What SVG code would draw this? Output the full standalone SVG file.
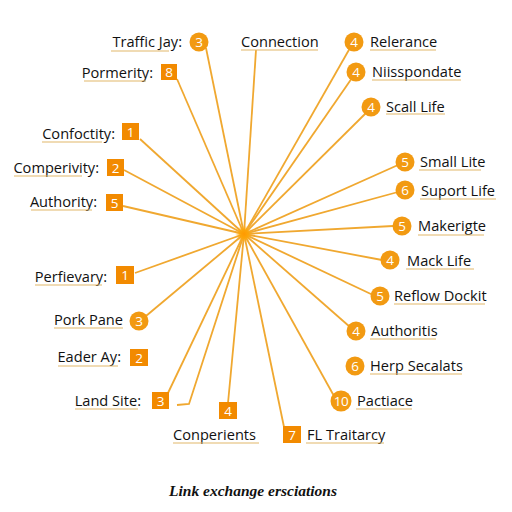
<svg xmlns="http://www.w3.org/2000/svg" width="512" height="512" viewBox="0 0 512 512">
<style>
.t{font-family:"Open Sans","Noto Sans",sans-serif;font-size:14.6px;fill:#111}
.n{font-family:"Open Sans","Noto Sans",sans-serif;font-size:13.5px;fill:#fff;text-anchor:middle}
.c{fill:#F29A12}
.s{fill:#F28A00}
.u{stroke:#E2B86A;stroke-width:1.2}
#conn line,#conn path{stroke:#F0A830;stroke-width:1.8;fill:none}
</style>
<defs>
<radialGradient id="glow"><stop offset="0" stop-color="#FF9900"/><stop offset="0.5" stop-color="#FFA500" stop-opacity="0.8"/><stop offset="1" stop-color="#FFB030" stop-opacity="0"/></radialGradient>
</defs>
<rect width="512" height="512" fill="#fff"/>
<g id="conn">
<line x1="244" y1="234" x2="206" y2="48"/>
<line x1="244" y1="234" x2="256" y2="50"/>
<line x1="244" y1="234" x2="350" y2="48"/>
<line x1="244" y1="234" x2="352" y2="78"/>
<line x1="244" y1="234" x2="366" y2="113"/>
<line x1="244" y1="234" x2="398" y2="165"/>
<line x1="244" y1="234" x2="398" y2="192"/>
<line x1="244" y1="234" x2="393" y2="226"/>
<line x1="244" y1="234" x2="382" y2="260"/>
<line x1="244" y1="234" x2="373" y2="295"/>
<line x1="244" y1="234" x2="350" y2="327"/>
<line x1="244" y1="234" x2="334" y2="396"/>
<line x1="244" y1="234" x2="284" y2="427"/>
<line x1="244" y1="234" x2="228" y2="403"/>
<path d="M244 234 L189 404 L177 405"/>
<line x1="244" y1="234" x2="168" y2="393"/>
<line x1="244" y1="234" x2="146" y2="316"/>
<line x1="244" y1="234" x2="135" y2="273"/>
<line x1="244" y1="234" x2="123" y2="206"/>
<line x1="244" y1="234" x2="124" y2="170"/>
<line x1="244" y1="234" x2="140" y2="139"/>
<line x1="244" y1="234" x2="177" y2="79"/>
</g>
<circle cx="244" cy="234" r="9" fill="url(#glow)"/>
<g id="traffic"><text class="t" x="182" y="47" text-anchor="end">Traffic Jay:</text><line class="u" x1="111" y1="51" x2="169" y2="51"/><circle class="c" cx="199" cy="42" r="9.5"/><text class="n" x="199" y="47">3</text></g>
<g id="connection"><text class="t" x="241" y="47">Connection</text><line class="u" x1="241" y1="50" x2="318" y2="50"/></g>
<g id="relerance"><circle class="c" cx="354" cy="42" r="9.5"/><text class="n" x="354" y="47">4</text><text class="t" x="370" y="47">Relerance</text><line class="u" x1="370" y1="50" x2="436" y2="50"/></g>
<g id="niiss"><circle class="c" cx="356" cy="72" r="9.5"/><text class="n" x="356" y="77">4</text><text class="t" x="372" y="77">Niisspondate</text><line class="u" x1="372" y1="80" x2="461" y2="80"/></g>
<g id="scall"><circle class="c" cx="371" cy="107" r="9.5"/><text class="n" x="371" y="112">4</text><text class="t" x="386" y="112">Scall Life</text><line class="u" x1="386" y1="114" x2="445" y2="114"/></g>
<g id="pormerity"><text class="t" x="153" y="78" text-anchor="end">Pormerity:</text><line class="u" x1="84" y1="81" x2="146" y2="81"/><rect class="s" x="161" y="64" width="16" height="16"/><text class="n" x="169" y="77">8</text></g>
<g id="confoctity"><text class="t" x="115" y="139" text-anchor="end">Confoctity:</text><line class="u" x1="42" y1="142" x2="102" y2="142"/><rect class="s" x="122" y="123" width="17" height="17"/><text class="n" x="130.5" y="136.5">1</text></g>
<g id="comperivity"><text class="t" x="99" y="173" text-anchor="end">Comperivity:</text><line class="u" x1="14" y1="176" x2="82" y2="176"/><rect class="s" x="107" y="159" width="17" height="17"/><text class="n" x="115.5" y="172.5">2</text></g>
<g id="authority"><text class="t" x="97" y="207" text-anchor="end">Authority:</text><line class="u" x1="31" y1="210" x2="92" y2="210"/><rect class="s" x="106" y="194" width="17" height="17"/><text class="n" x="114.5" y="207.5">5</text></g>
<g id="small"><circle class="c" cx="405" cy="162" r="9.5"/><text class="n" x="405" y="167">5</text><text class="t" x="420" y="167">Small Lite</text><line class="u" x1="419" y1="170" x2="481" y2="170"/></g>
<g id="suport"><circle class="c" cx="405" cy="190" r="9.5"/><text class="n" x="405" y="195">6</text><text class="t" x="421" y="196">Suport Life</text><line class="u" x1="420" y1="199" x2="496" y2="199"/></g>
<g id="makerigte"><circle class="c" cx="402" cy="226" r="9.5"/><text class="n" x="402" y="231">5</text><text class="t" x="418" y="231">Makerigte</text><line class="u" x1="418" y1="235" x2="484" y2="235"/></g>
<g id="mack"><circle class="c" cx="390" cy="260" r="9.5"/><text class="n" x="390" y="265">4</text><text class="t" x="407" y="266">Mack Life</text><line class="u" x1="406" y1="269" x2="474" y2="269"/></g>
<g id="reflow"><circle class="c" cx="380" cy="296" r="9.5"/><text class="n" x="380" y="301">5</text><text class="t" x="394" y="301">Reflow Dockit</text><line class="u" x1="394" y1="304" x2="485" y2="304"/></g>
<g id="authoritis"><circle class="c" cx="356" cy="331" r="9.5"/><text class="n" x="356" y="336">4</text><text class="t" x="371" y="336">Authoritis</text><line class="u" x1="370" y1="339" x2="436" y2="339"/></g>
<g id="herp"><circle class="c" cx="355" cy="366" r="9.5"/><text class="n" x="355" y="371">6</text><text class="t" x="370" y="371">Herp Secalats</text><line class="u" x1="370" y1="374" x2="462" y2="374"/></g>
<g id="pactiace"><circle class="c" cx="341" cy="401" r="10.5"/><text class="n" x="341" y="406" letter-spacing="-0.5">10</text><text class="t" x="357" y="406">Pactiace</text><line class="u" x1="356" y1="409" x2="412" y2="409"/></g>
<g id="fl"><rect class="s" x="283" y="426" width="18" height="17"/><text class="n" x="292" y="439.5">7</text><text class="t" x="307" y="440">FL Traitarcy</text><line class="u" x1="306" y1="443" x2="384" y2="443"/></g>
<g id="conperients"><rect class="s" x="219" y="402" width="18" height="17"/><text class="n" x="228" y="415.5">4</text><text class="t" x="173" y="440">Conperients</text><line class="u" x1="173" y1="443" x2="259" y2="443"/></g>
<g id="land"><text class="t" x="141" y="406" text-anchor="end">Land Site:</text><line class="u" x1="75" y1="409" x2="138" y2="409"/><rect class="s" x="152" y="392" width="17" height="17"/><text class="n" x="160.5" y="405.5">3</text></g>
<g id="perfievary"><text class="t" x="107" y="282" text-anchor="end">Perfievary:</text><line class="u" x1="35" y1="285" x2="102" y2="285"/><rect class="s" x="116" y="266" width="18" height="18"/><text class="n" x="125" y="280">1</text></g>
<g id="pork"><text class="t" x="123" y="325" text-anchor="end">Pork Pane</text><line class="u" x1="54" y1="328" x2="123" y2="328"/><circle class="c" cx="139" cy="321" r="9.5"/><text class="n" x="139" y="326">3</text></g>
<g id="eader"><text class="t" x="121" y="362" text-anchor="end">Eader Ay:</text><line class="u" x1="58" y1="366" x2="118" y2="366"/><rect class="s" x="130" y="349" width="18" height="17"/><text class="n" x="139" y="362.5">2</text></g>
<text x="253" y="496" text-anchor="middle" font-family="'Liberation Serif',serif" font-style="italic" font-weight="bold" font-size="15.5" fill="#111">Link exchange ersciations</text>
</svg>
